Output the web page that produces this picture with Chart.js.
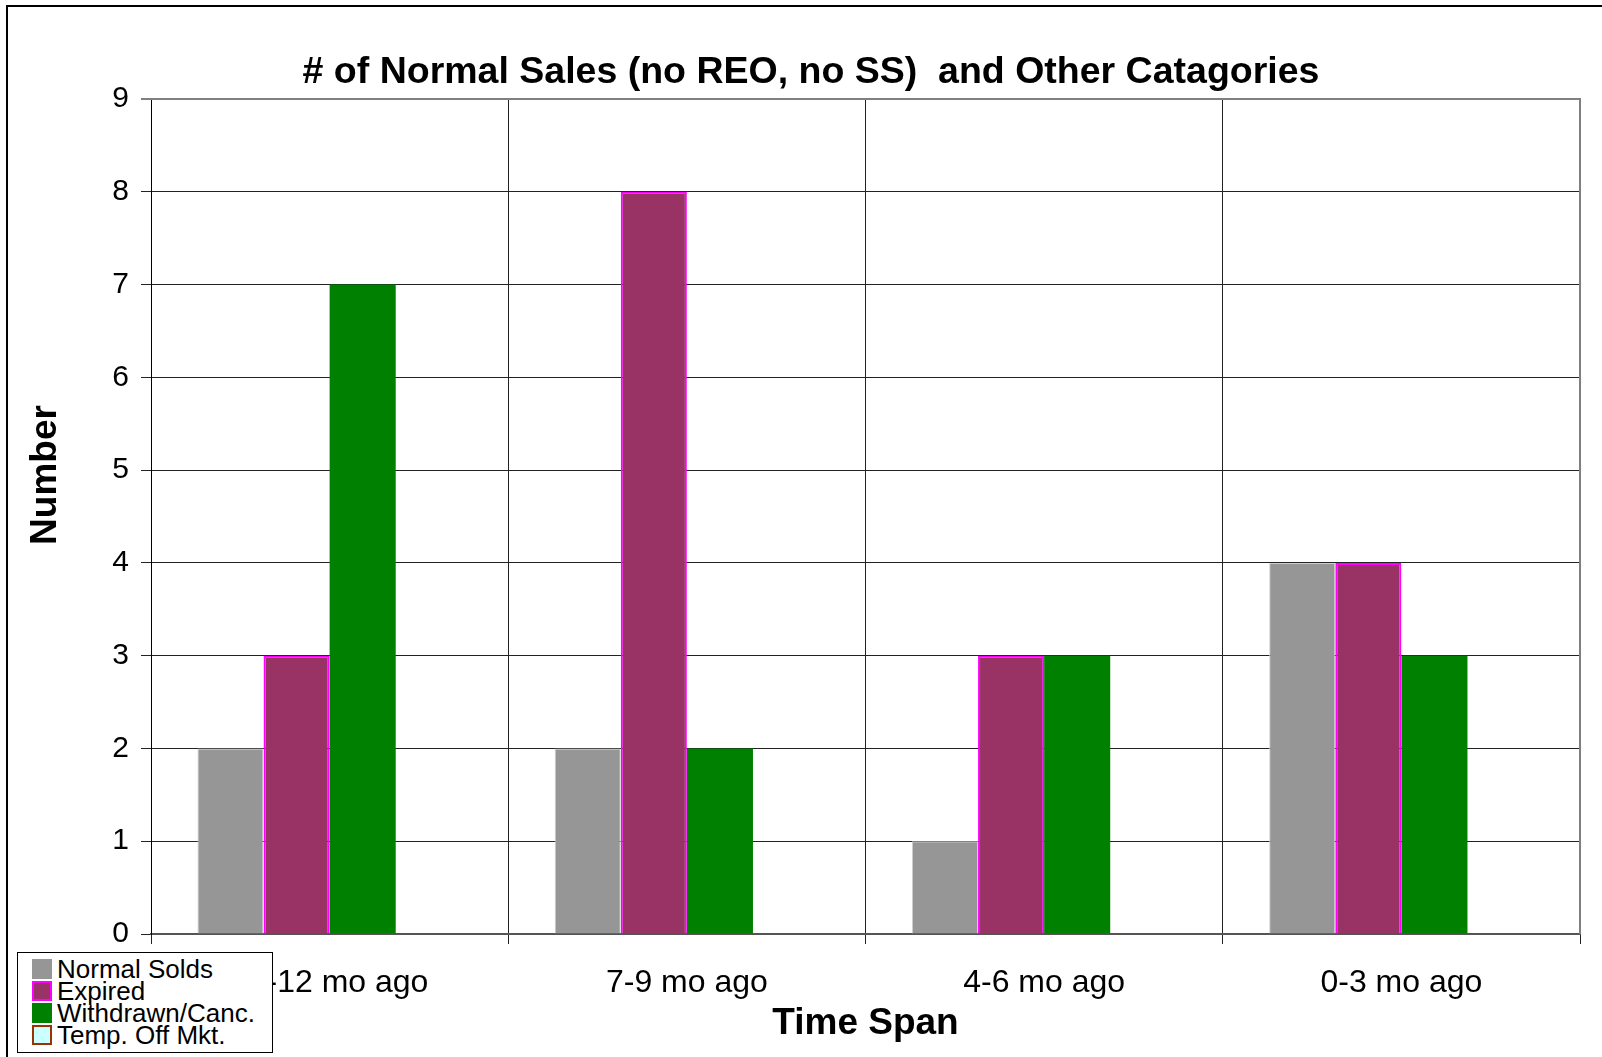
<!DOCTYPE html>
<html>
<head>
<meta charset="utf-8">
<title>Normal Sales and Other Categories</title>
<script src="https://cdn.jsdelivr.net/npm/chart.js@4.4.1/dist/chart.umd.min.js"></script>
<style>
  html, body { margin: 0; padding: 0; background: #fff; overflow: hidden; }
  #frame {
    position: absolute; left: 6px; top: 5px; width: 1700px; height: 1100px;
    border: 2px solid #000; box-sizing: border-box;
  }
  #myChart { position: absolute; left: 0; top: 0; }
  #legend {
    position: absolute; left: 17px; top: 952px; width: 256px; height: 101px;
    box-sizing: border-box; border: 1px solid #000; background: #fff;
    padding: 5px 0 0 14px;
    font-family: "Liberation Sans", Arial, sans-serif; font-size: 26px; line-height: 22px;
    color: #000;
  }
  .legend-row { display: flex; align-items: center; height: 22px; white-space: nowrap; }
  .legend-box { width: 20px; height: 20px; box-sizing: border-box; margin-right: 5px; flex: none; }
</style>
</head>
<body>
<div id="frame"></div>
<canvas id="myChart" width="1602" height="1057"></canvas>
<div id="legend"></div>
<script>
const categories = ["10-12 mo ago", "7-9 mo ago", "4-6 mo ago", "0-3 mo ago"];
const normalSolds = [2, 2, 1, 4];
const expired = [3, 8, 3, 4];
const withdrawn = [7, 2, 3, 3];
const tempOffMkt = [0, 0, 0, 0];
const yTicks = [0, 1, 2, 3, 4, 5, 6, 7, 8, 9];

const seriesNames = ["Normal Solds", "Expired", "Withdrawn/Canc.", "Temp. Off Mkt."];
const seriesFill = ["#969696", "#993366", "#008000", "#CCFFFF"];
const seriesEdge = ["#cfcfcf", "#FF00FF", "#008000", "#993300"];

const FONT = "'Liberation Sans', Arial, sans-serif";

// gray frame on the top and right of the plot area
const plotFrame = {
  id: "plotFrame",
  afterDatasetsDraw(chart) {
    const { ctx, chartArea } = chart;
    ctx.save();
    ctx.strokeStyle = "#808080";
    ctx.lineWidth = 2;
    ctx.beginPath();
    ctx.moveTo(chartArea.left - 10, chartArea.top);
    ctx.lineTo(chartArea.right, chartArea.top);
    ctx.lineTo(chartArea.right, chartArea.bottom);
    ctx.stroke();
    ctx.restore();
  },
};

// vertical axis caption, sits a bit above the middle of the axis
const yCaption = {
  id: "yCaption",
  afterDraw(chart) {
    const { ctx } = chart;
    ctx.save();
    ctx.translate(46, 475);
    ctx.rotate(-Math.PI / 2);
    ctx.fillStyle = "#000";
    ctx.font = "bold 37px " + FONT;
    ctx.textAlign = "center";
    ctx.textBaseline = "middle";
    ctx.fillText("Number", 0, 0);
    ctx.restore();
  },
};

const chartData = {
  labels: categories,
  datasets: [
    { label: seriesNames[0], data: normalSolds, backgroundColor: seriesFill[0], borderColor: seriesEdge[0], borderWidth: 1 },
    { label: seriesNames[1], data: expired, backgroundColor: seriesFill[1], borderColor: seriesEdge[1], borderWidth: 2 },
    { label: seriesNames[2], data: withdrawn, backgroundColor: seriesFill[2], borderWidth: 0 },
    { label: seriesNames[3], data: tempOffMkt, backgroundColor: seriesFill[3], borderColor: seriesEdge[3], borderWidth: 0 },
  ],
};

const config = {
  type: "bar",
  data: chartData,
  options: {
    responsive: false,
    animation: false,
    devicePixelRatio: 1,
    categoryPercentage: 0.74,
    barPercentage: 1,
    layout: { padding: { left: 20, right: 0, top: 0, bottom: 0 } },
    plugins: {
      legend: { display: false },
      tooltip: { enabled: false },
      title: {
        display: true,
        text: "# of Normal Sales (no REO, no SS)  and Other Catagories",
        color: "#000",
        font: { family: FONT, size: 37.5, weight: "bold", lineHeight: 1.2 },
        padding: { top: 50.3, bottom: 3.7 },
      },
    },
    scales: {
      x: {
        grid: { color: "#222", lineWidth: 1, offset: true, tickLength: 10 },
        border: { color: "#555", width: 2 },
        ticks: { color: "#000", font: { family: FONT, size: 32 }, padding: 20, maxRotation: 0 },
        title: {
          display: true, text: "Time Span", color: "#000",
          font: { family: FONT, size: 37, weight: "bold", lineHeight: 1.2 },
          padding: { top: 0, bottom: 11 },
        },
        afterFit: (s) => { s.height = 123; },
      },
      y: {
        min: 0,
        max: 9,
        afterBuildTicks: (s) => { s.ticks = yTicks.map((v) => ({ value: v })); },
        grid: { color: "#222", lineWidth: 1, tickLength: 10 },
        border: { color: "#000", width: 1 },
        ticks: { color: "#000", font: { family: FONT, size: 30 }, padding: 12 },
        afterFit: (s) => { s.width = 131; },
      },
      gap: {
        position: "right",
        display: true,
        grid: { display: false },
        border: { display: false },
        ticks: { display: false },
        afterFit: (s) => { s.width = 22; },
      },
    },
  },
  plugins: [plotFrame, yCaption],
};

const myChart = new Chart(document.getElementById("myChart"), config);

// legend box in the lower left corner
const legend = document.getElementById("legend");
seriesNames.forEach((name, i) => {
  const row = document.createElement("div");
  row.className = "legend-row";
  const box = document.createElement("span");
  box.className = "legend-box";
  box.style.background = seriesFill[i];
  if (i === 1 || i === 3) box.style.border = "2px solid " + seriesEdge[i];
  const text = document.createElement("span");
  text.textContent = name;
  row.appendChild(box);
  row.appendChild(text);
  legend.appendChild(row);
});
</script>
</body>
</html>
